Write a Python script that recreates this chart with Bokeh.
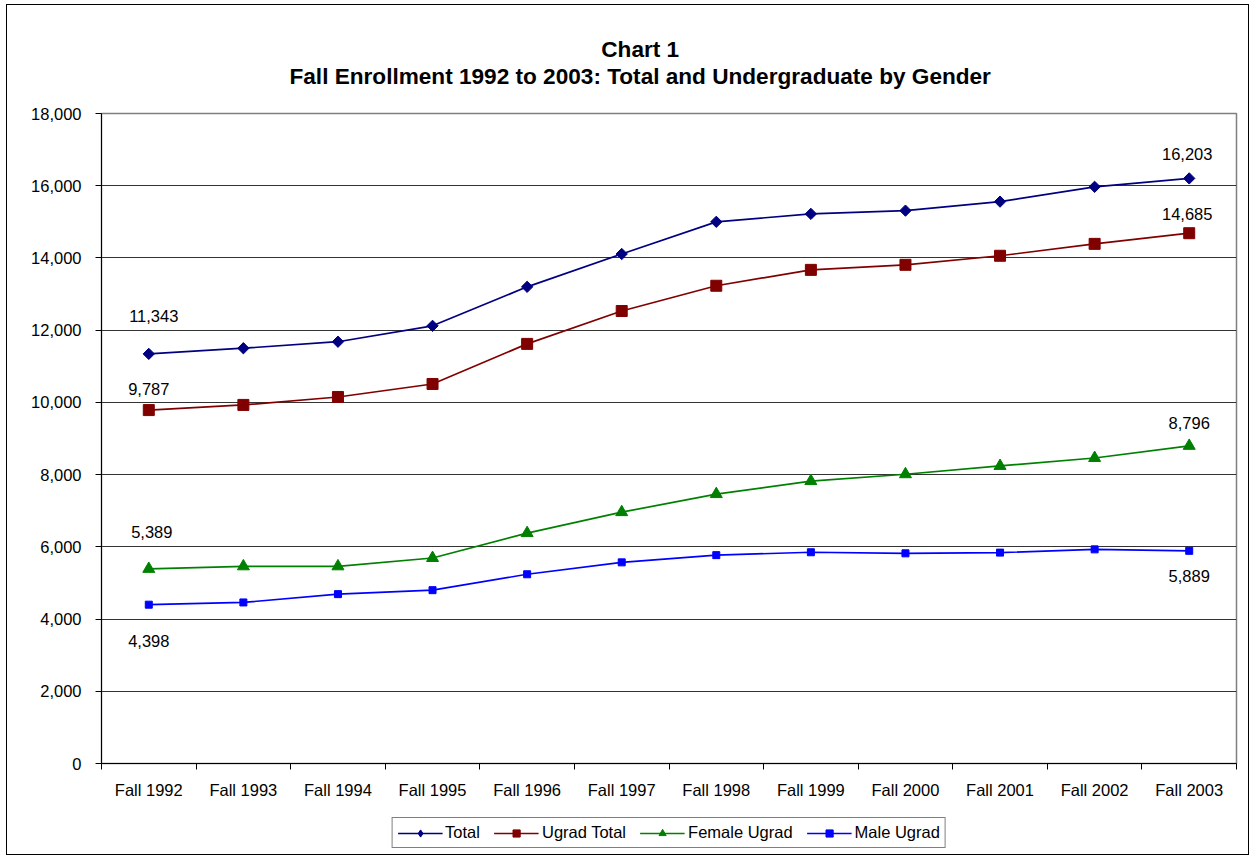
import math
from bokeh.plotting import figure
from bokeh.layouts import column
from bokeh.models import (FixedTicker, Range1d, Legend, LegendItem,
                          ColumnDataSource, LabelSet, NumeralTickFormatter)
from bokeh.core.properties import value
from bokeh.embed import file_html
from bokeh.resources import INLINE

categories = ["Fall 1992", "Fall 1993", "Fall 1994", "Fall 1995", "Fall 1996", "Fall 1997",
              "Fall 1998", "Fall 1999", "Fall 2000", "Fall 2001", "Fall 2002", "Fall 2003"]
total = [11343, 11500, 11680, 12120, 13200, 14110, 15000, 15220, 15310, 15560, 15970, 16203]
ugrad_total = [9787, 9930, 10150, 10510, 11620, 12530, 13230, 13670, 13810, 14060, 14390, 14685]
female_ugrad = [5389, 5460, 5460, 5690, 6380, 6960, 7460, 7820, 8010, 8240, 8460, 8796]
male_ugrad = [4398, 4460, 4690, 4800, 5240, 5570, 5770, 5850, 5820, 5840, 5930, 5889]
y_ticks = [0, 2000, 4000, 6000, 8000, 10000, 12000, 14000, 16000, 18000]

FONT = "Liberation Sans"
FS = "16.5px"
BORDER = "1.5px solid #000000"
xs = [i + 0.5 for i in range(len(categories))]

p = figure(frame_width=1133, frame_height=649, output_backend="svg", toolbar_location=None,
           x_range=Range1d(0, len(categories)), y_range=Range1d(0, 18000),
           title="Chart 1\nFall Enrollment 1992 to 2003: Total and Undergraduate by Gender",
           min_border_left=94, min_border_right=14, min_border_top=108,
           min_border_bottom=42)
p.styles = {"border-top": BORDER, "border-left": BORDER, "border-right": BORDER,
            "margin-left": "6px", "margin-top": "4px"}

p.title.align = "left"
p.title.offset = 188
p.title.text_align = "center"
p.title.text_font = FONT
p.title.text_font_size = "22.6px"
p.title.text_font_style = "bold"
p.title.text_color = "#000000"
p.title.text_line_height = 1.08
p.title.standoff = 49

p.outline_line_color = "#808080"
p.outline_line_width = 1.5

# axes
p.xaxis.ticker = FixedTicker(ticks=xs, minor_ticks=list(range(len(categories) + 1)))
p.xaxis.major_label_overrides = {x: c for x, c in zip(xs, categories)}
p.xaxis.major_tick_out = 0
p.xaxis.major_tick_in = 0
p.xaxis.minor_tick_out = 6
p.xaxis.minor_tick_in = 0
p.xaxis.minor_tick_line_color = "#000000"
p.xaxis.axis_line_color = "#000000"
p.xaxis.major_label_text_font = FONT
p.xaxis.major_label_text_font_size = FS
p.xaxis.major_label_text_color = "#000000"
p.xaxis.major_label_standoff = 11

p.yaxis.ticker = FixedTicker(ticks=y_ticks, minor_ticks=[])
p.yaxis.formatter = NumeralTickFormatter(format="0,0")
p.yaxis.major_tick_out = 6
p.yaxis.major_tick_in = 0
p.yaxis.minor_tick_out = 0
p.yaxis.minor_tick_in = 0
p.yaxis.axis_line_color = "#000000"
p.yaxis.major_tick_line_color = "#000000"
p.yaxis.major_label_text_font = FONT
p.yaxis.major_label_text_font_size = FS
p.yaxis.major_label_text_color = "#000000"
p.yaxis.major_label_standoff = 14

p.xgrid.grid_line_color = None
p.ygrid.grid_line_color = "#333333"
p.ygrid.grid_line_width = 1

# legend strip below the chart (its own figure so the legend is not clipped)
p2 = figure(frame_width=1133, frame_height=50, output_backend="svg", toolbar_location=None,
            x_range=Range1d(0, len(categories)), y_range=Range1d(-2, -1),
            x_axis_type=None, y_axis_type=None,
            min_border_left=94, min_border_right=14, min_border_top=0, min_border_bottom=0)
p2.styles = {"border-bottom": BORDER, "border-left": BORDER, "border-right": BORDER,
             "margin-left": "6px"}
p2.outline_line_color = None
p2.grid.grid_line_color = None

series = [
    ("Total", total, "#000080", "square", 8, math.pi / 4, "diamond", 12),
    ("Ugrad Total", ugrad_total, "#800000", "square", 11, 0, "square", 11),
    ("Female Ugrad", female_ugrad, "#008000", "triangle", 12, 0, "triangle", 12),
    ("Male Ugrad", male_ugrad, "#0000FF", "square", 7, 0, "square", 7),
]
items = []
for name, vals, color, marker, size, ang, lmarker, lsize in series:
    src = ColumnDataSource(dict(x=xs, y=vals))
    p.line("x", "y", source=src, line_color=color, line_width=1.7)
    p.scatter("x", "y", source=src, marker=marker, size=size, angle=ang,
              fill_color=color, line_color=color)
    ln2 = p2.line("x", "y", source=src, line_color=color, line_width=1.7)
    sc2 = p2.scatter("x", "y", source=src, marker=lmarker, size=lsize,
                     fill_color=color, line_color=color)
    items.append(LegendItem(label=name, renderers=[ln2, sc2]))

legend = Legend(items=items, orientation="horizontal", location="top_center",
                label_text_font=FONT, label_text_font_size=FS,
                label_text_color="#000000", border_line_color="#000000",
                border_line_width=1, glyph_width=45, label_standoff=3,
                spacing=14, padding=5, margin=13, label_height=18, glyph_height=18,
                background_fill_color="#ffffff")
p2.add_layout(legend, "center")

# data labels for first and last points
lab_x = [xs[0], xs[0], xs[0], xs[-1], xs[-1], xs[-1]]
lab_y = [total[0], ugrad_total[0], female_ugrad[0],
         total[-1], ugrad_total[-1], female_ugrad[-1]]
lab_t = [f"{v:,}" for v in lab_y]
lab_off = [32, 15, 31, 18, 13, 17]
lab_dx = [5, 0, 3, -2, -2, 0]
lab_src = ColumnDataSource(dict(x=lab_x, y=lab_y, t=lab_t, off=lab_off, dx=lab_dx))
labels = LabelSet(x="x", y="y", text="t", source=lab_src, x_offset="dx", y_offset="off",
                  text_align="center", text_baseline="bottom",
                  text_font=value(FONT), text_font_size=FS, text_color="#000000")
p.add_layout(labels)

low_x = [xs[0], xs[-1]]
low_y = [male_ugrad[0], male_ugrad[-1]]
low_t = [f"{v:,}" for v in low_y]
low_off = [-30, -19]
low_src = ColumnDataSource(dict(x=low_x, y=low_y, t=low_t, off=low_off))
labels2 = LabelSet(x="x", y="y", text="t", source=low_src, y_offset="off",
                   text_align="center", text_baseline="top",
                   text_font=value(FONT), text_font_size=FS, text_color="#000000")
p.add_layout(labels2)

layout = column(p, p2, spacing=0)
open("out.html", "w").write(file_html(layout, INLINE))
